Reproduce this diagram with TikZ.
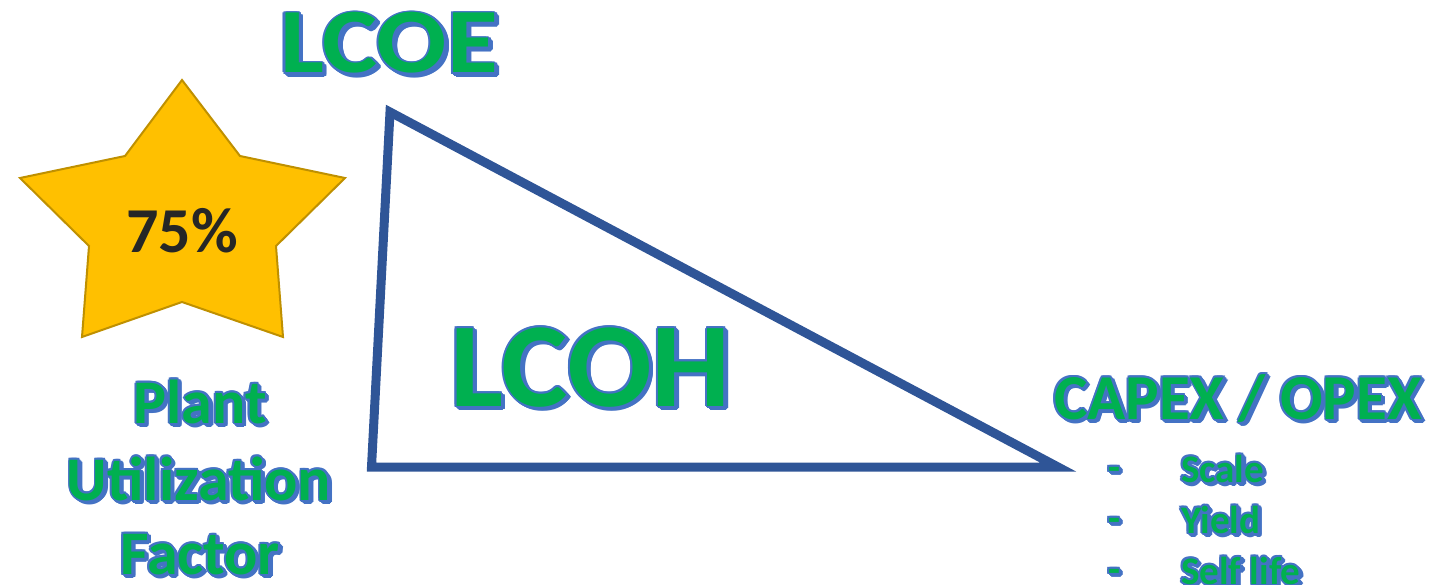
\documentclass[tikz,border=0pt]{standalone}
\usepackage{fontspec}
\setmainfont{Carlito}
\definecolor{tgreen}{HTML}{00B050}
\definecolor{tblue}{HTML}{4472C4}
\definecolor{triblue}{HTML}{2F5597}
\definecolor{stargold}{HTML}{FFC000}
\definecolor{stardark}{HTML}{BF9000}
\definecolor{pctcol}{HTML}{262626}
\newcommand\ovc[3]{\rlap{\kern#1\raisebox{#2}{\textcolor{tblue}{#3}}}}
\newcommand\fxring[3]{%
  \ovc{\dimexpr#1-1.8pt}{#2}{#3}\ovc{\dimexpr#1+1.8pt}{#2}{#3}%
  \ovc{#1}{\dimexpr#2+1.8pt}{#3}\ovc{#1}{\dimexpr#2-1.8pt}{#3}%
  \ovc{\dimexpr#1-1.3pt}{\dimexpr#2+1.3pt}{#3}\ovc{\dimexpr#1+1.3pt}{\dimexpr#2+1.3pt}{#3}%
  \ovc{\dimexpr#1-1.3pt}{\dimexpr#2-1.3pt}{#3}\ovc{\dimexpr#1+1.3pt}{\dimexpr#2-1.3pt}{#3}}
\newcommand\fx[1]{\leavevmode\fxring{0pt}{0pt}{#1}\fxring{1.3pt}{-1.3pt}{#1}\fxring{2.6pt}{-2.6pt}{#1}\textcolor{tgreen}{#1}}
\tikzset{
  fancy/.style={inner sep=0pt, outer sep=0pt, anchor=base west, font=\bfseries},
  tri/.style={draw=triblue, line width=9pt, line join=miter},
  starshape/.style={draw=stardark, line width=2pt, fill=stargold, line join=miter},
}
\begin{document}
\begin{tikzpicture}[x=1pt,y=-1pt]
\useasboundingbox (0,0) rectangle (1434,585);
% star
\draw[starshape] (182,80) -- (240,156) -- (345,178) -- (276,246) -- (283,337) -- (182,302) -- (82,337) -- (89,246) -- (20,178) -- (125,156) -- cycle;
\node[inner sep=0pt, anchor=base, font=\bfseries\fontsize{64}{76}\selectfont, text=pctcol] (pct) at (182,253) {75\%};
% triangle
\coordinate (A) at (390,112);
\coordinate (B) at (371.5,467);
\coordinate (C) at (1058,467);
\draw[tri] (A) -- (B) -- (C) -- cycle;
% titles
\node[fancy, font=\bfseries\fontsize{92}{110}\selectfont] (lcoe) at (280,73) {\scalebox{1.13}[1]{\fx{LCOE}}};
\node[fancy, font=\bfseries\fontsize{120}{144}\selectfont] (lcoh) at (450,406) {\scalebox{1.045}[1]{\fx{LCOH}}};
\node[fancy, font=\bfseries\fontsize{64}{77}\selectfont] (capex) at (1054,419) {\scalebox{0.985}[1]{\fx{CAPEX / OPEX}}};
% list
\node[fancy, font=\bfseries\fontsize{39}{47}\selectfont] (d1) at (1108,480) {\fx{-}};
\node[fancy, font=\bfseries\fontsize{39}{47}\selectfont] (d2) at (1108,531) {\fx{-}};
\node[fancy, font=\bfseries\fontsize{39}{47}\selectfont] (d3) at (1108,582) {\fx{-}};
\node[fancy, font=\bfseries\fontsize{39}{47}\selectfont] (scale) at (1181,482) {\fx{Scale}};
\node[fancy, font=\bfseries\fontsize{39}{47}\selectfont] (yield) at (1181,533) {\fx{Yield}};
\node[fancy, font=\bfseries\fontsize{39}{47}\selectfont] (life) at (1181,584) {\fx{Self life}};
% plant utilization factor
\node[fancy, anchor=base, font=\bfseries\fontsize{62}{76}\selectfont] (pu1) at (200,423) {\fx{Plant}};
\node[fancy, anchor=base, font=\bfseries\fontsize{62}{76}\selectfont] (pu2) at (199,500) {\fx{Utilization}};
\node[fancy, anchor=base, font=\bfseries\fontsize{62}{76}\selectfont] (pu3) at (200,574) {\fx{Factor}};
\end{tikzpicture}
\end{document}
